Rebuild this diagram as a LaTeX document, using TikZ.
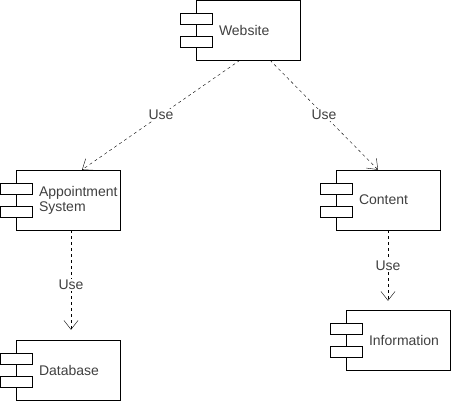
\documentclass[tikz,border=0pt]{standalone}
\usepackage{fontspec}
\setmainfont{Liberation Sans}
\usetikzlibrary{arrows.meta, positioning}

\begin{document}
\begin{tikzpicture}[
			x=1pt, y=-1pt,
			every node/.style={font=\fontsize{14}{15}\selectfont, text=black!75},
			component/.style={
				rectangle,
				minimum width=104pt,
				minimum height=60pt,
				inner sep=0pt,
				draw=black,
				fill=white
			},
			caption/.style={align=left, inner sep=0pt},
			tab/.style={draw=black, fill=white},
			uses/.style={dash pattern=on 3pt off 3pt, -{Straight Barb[length=9pt,width=14pt]}},
			uselabel/.style={fill=white, inner sep=1.5pt}
			]
			\useasboundingbox (0,0) rectangle (451,401);
			
			% Nodes
			\node (web) [component] at (248,30) {};
			\node (appt) [component] at (68,200) {};
			\node (cont) [component] at (388,200) {};
			\node (db) [component] at (68,370) {};
			\node (info) [component] at (398,340) {};
			
			% Tabs
			\foreach \n in {web, appt, cont, db, info} {
				\draw [tab] ([xshift=-16pt, yshift=-13pt]\n.north west) rectangle ++(32,11);
				\draw [tab] ([xshift=-16pt, yshift=-36pt]\n.north west) rectangle ++(32,11);
			}
			
			% Texts
			\node (web-txt) [caption, right=23pt of web.west] {Website};
			\node (appt-txt) [caption, right=23pt of appt.west] {Appointment\\System};
			\node (cont-txt) [caption, right=23pt of cont.west] {Content};
			\node (db-txt) [caption, right=23pt of db.west] {Database};
			\node (info-txt) [caption, right=23pt of info.west] {Information};
			
			% Arrows
			\draw [uses] ([xshift=-8pt]web.south) -- node[uselabel] {Use} ([xshift=14pt]appt.north);
			\draw [uses] ([xshift=22pt]web.south) -- node[uselabel] {Use} ([xshift=-10pt]cont.north);
			\draw [uses] ([xshift=3pt]appt.south) -- node[uselabel, pos=0.55] {Use} ([xshift=3pt, yshift=10pt]db.north);
			\draw [uses] (cont.south) -- node[uselabel] {Use} ([xshift=-10pt, yshift=9pt]info.north);
			
		\end{tikzpicture}
\end{document}
